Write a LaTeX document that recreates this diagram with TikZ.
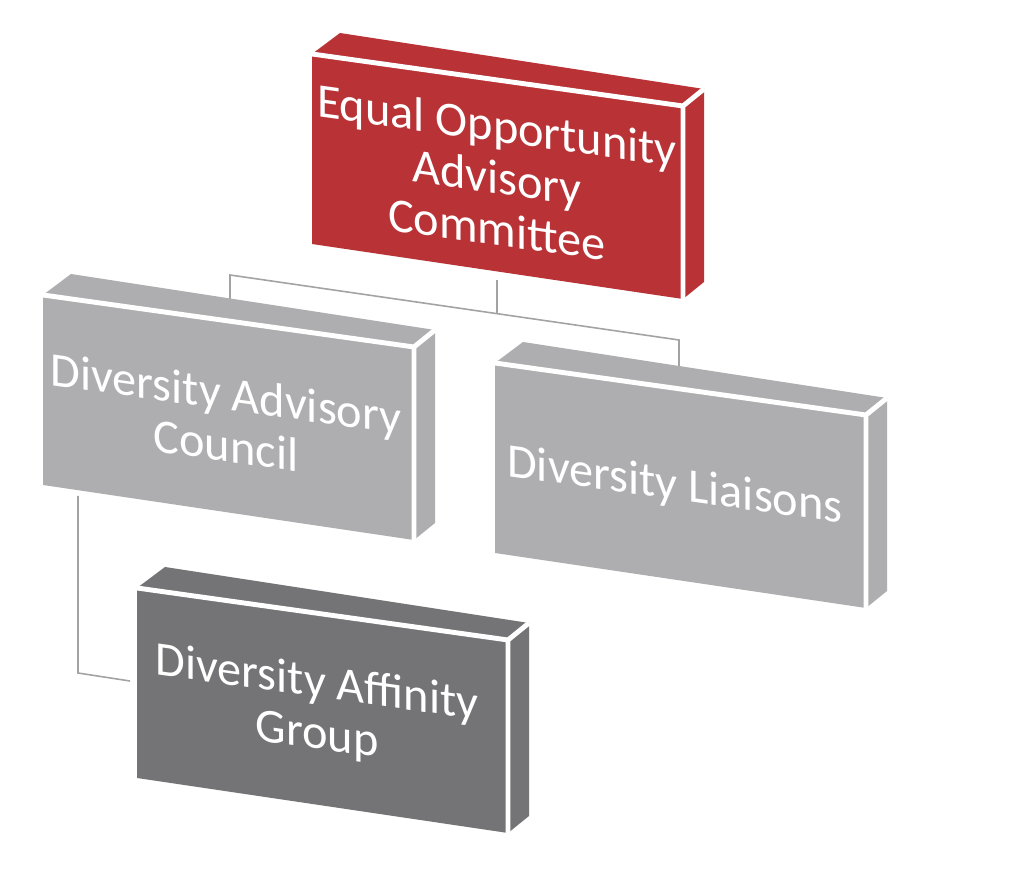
\documentclass[tikz,border=0pt]{standalone}
\usepackage{fontspec}
\setmainfont{Carlito}
\usetikzlibrary{calc}
\definecolor{boxred}{HTML}{B83236}
\definecolor{boxgrey}{HTML}{AEAEB0}
\definecolor{boxdark}{HTML}{747476}
\definecolor{connc}{HTML}{A3A3A3}
\tikzset{
  boxlabel/.style={text=white, align=center, yslant=-0.14, inner sep=0pt,
    font=\fontsize{27.5}{29.5}\selectfont},
  edgeline/.style={white, line width=2.8pt},
  conn/.style={connc, line width=0.9pt},
}
\newcommand\orgbox[5]{%
  \begin{scope}[shift={#2}]
    \fill[#3] (0,0) -- (28,-21) -- (392,35) -- (371,52) -- cycle;
    \fill[#3] (0,0) -- (371,52) -- (371,245) -- (0,190) -- cycle;
    \fill[#3] (371,52) -- (392,35) -- (392,228) -- (371,245) -- cycle;
    \draw[edgeline] (0,0) -- (371,52) -- (371,245) (371,52) -- (392,35);
    \node[boxlabel] (#1) at #4 {#5};
  \end{scope}}
\begin{document}
\begin{tikzpicture}[x={(0.02cm,0)}, y={(0,-0.02cm)}]
\useasboundingbox[fill=white] (0,0) rectangle (1009,888);
% connector points
\coordinate (eoaBot) at (497,280);
\coordinate (junc) at (497,313.7);
\coordinate (dacUp) at (230,275);
\coordinate (dacTop) at (230,305);
\coordinate (dlUp) at (679,340);
\coordinate (dlTop) at (679,372);
\coordinate (dacBot) at (78,496);
\coordinate (dagCorner) at (78,673);
\coordinate (dagLeft) at (130,681);
\draw[conn] (eoaBot) -- (junc);
\draw[conn] (dacTop) -- (dacUp) -- (dlUp) -- (dlTop);
\draw[conn] (dacBot) -- (dagCorner) -- (dagLeft);
% boxes
\orgbox{dac}{(43,295)}{boxgrey}{(183,124)}{Diversity Advisory\\Council}
\orgbox{dl}{(495,363)}{boxgrey}{(180,124)}{Diversity Liaisons}
\orgbox{eoa}{(312,54)}{boxred}{(185,123)}{Equal Opportunity\\Advisory\\Committee}
\orgbox{dag}{(137,588)}{boxdark}{(180,122)}{Diversity Affinity\\Group}
\end{tikzpicture}
\end{document}
